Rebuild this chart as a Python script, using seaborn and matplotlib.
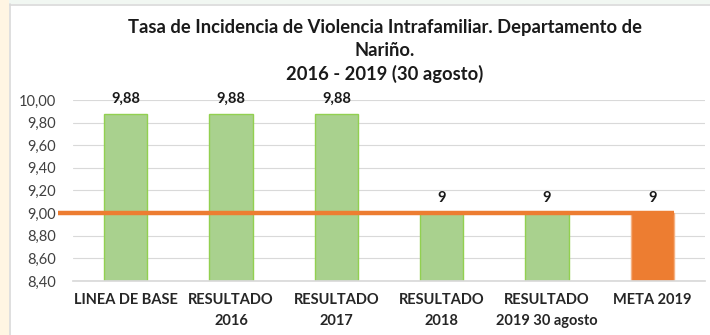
import matplotlib
matplotlib.use("Agg")
import matplotlib.pyplot as plt
import matplotlib.patches as mpatches
from matplotlib.ticker import FuncFormatter
import seaborn as sns

categorias = ["LINEA DE BASE", "RESULTADO\n2016", "RESULTADO\n2017",
              "RESULTADO\n2018", "RESULTADO\n2019 30 agosto", "META 2019"]
tasas = [9.88, 9.88, 9.88, 9, 9, 9]
etiquetas = ["9,88", "9,88", "9,88", "9", "9", "9"]
meta = 9.0
colores = ["#A9D18E"] * 5 + ["#ED7D31"]
bordes = ["#92D050"] * 5 + ["#F4B183"]

sns.set_theme(style="white")
plt.rcParams["font.family"] = ["Lato", "DejaVu Sans"]

fig = plt.figure(figsize=(7.10, 3.35), dpi=100)
fig.patch.set_facecolor("white")

# page background strips and chart frame
fig.patches.append(mpatches.Rectangle((0, 0), 9 / 710, 1, transform=fig.transFigure,
                                      facecolor="#FFF5E3", edgecolor="none", zorder=0))
fig.patches.append(mpatches.Rectangle((9 / 710, 1 - 4 / 335), 1, 4 / 335, transform=fig.transFigure,
                                      facecolor="#F1F7F2", edgecolor="none", zorder=0))
fig.lines.append(plt.Line2D([9.5 / 710, 9.5 / 710], [0, 1 - 4 / 335], transform=fig.transFigure,
                            color="#D9D9D9", lw=1.2))
fig.lines.append(plt.Line2D([9.5 / 710, 1], [1 - 4.5 / 335, 1 - 4.5 / 335], transform=fig.transFigure,
                            color="#D9D9D9", lw=1.2))

ax = fig.add_axes([73 / 710, 1 - 281 / 335, 632 / 710, 181 / 335])
ax.set_facecolor("white")

sns.barplot(x=categorias, y=tasas, hue=categorias, palette=colores, legend=False,
            width=0.41, saturation=1, ax=ax, zorder=2)
for patch, ec in zip(ax.patches, bordes):
    patch.set_edgecolor(ec)
    patch.set_linewidth(1.0)

ax.set_ylim(8.4, 10.0)
ax.set_yticks([8.4 + 0.2 * i for i in range(9)])
ax.yaxis.set_major_formatter(FuncFormatter(lambda v, _: f"{v:.2f}".replace(".", ",")))
ax.set_xlim(-0.5, len(categorias) - 0.5)
ax.grid(axis="y", color="#D9D9D9", lw=0.8, zorder=0)
for s in ["top", "right", "left"]:
    ax.spines[s].set_visible(False)
ax.spines["bottom"].set_color("#D9D9D9")
ax.tick_params(axis="y", length=0, pad=12, labelsize=10.5, labelcolor="#404040")
ax.tick_params(axis="x", length=0, pad=9, labelsize=10.5)
for lbl in ax.get_xticklabels():
    lbl.set_fontweight("bold")
    lbl.set_color("#262626")
    lbl.set_linespacing(1.55)
ax.set_xlabel("")
ax.set_ylabel("")

# goal line
ax.plot([-0.64, 5.21], [meta, meta], color="#ED7D31", lw=3.2, zorder=3,
        clip_on=False, solid_capstyle="butt")

# value labels
for i, (v, t) in enumerate(zip(tasas, etiquetas)):
    ax.text(i, v + 0.07, t, ha="center", va="bottom", fontsize=10.5,
            fontweight="bold", color="#1a1a1a")

fig.text(385 / 710, 1 - 51 / 335,
         "Tasa de Incidencia de Violencia Intrafamiliar. Departamento de\nNariño.\n2016 - 2019 (30 agosto)",
         ha="center", va="center", fontsize=13.2, fontweight="bold", color="#1a1a1a",
         linespacing=1.4)

fig.savefig("out.png", dpi=100)
